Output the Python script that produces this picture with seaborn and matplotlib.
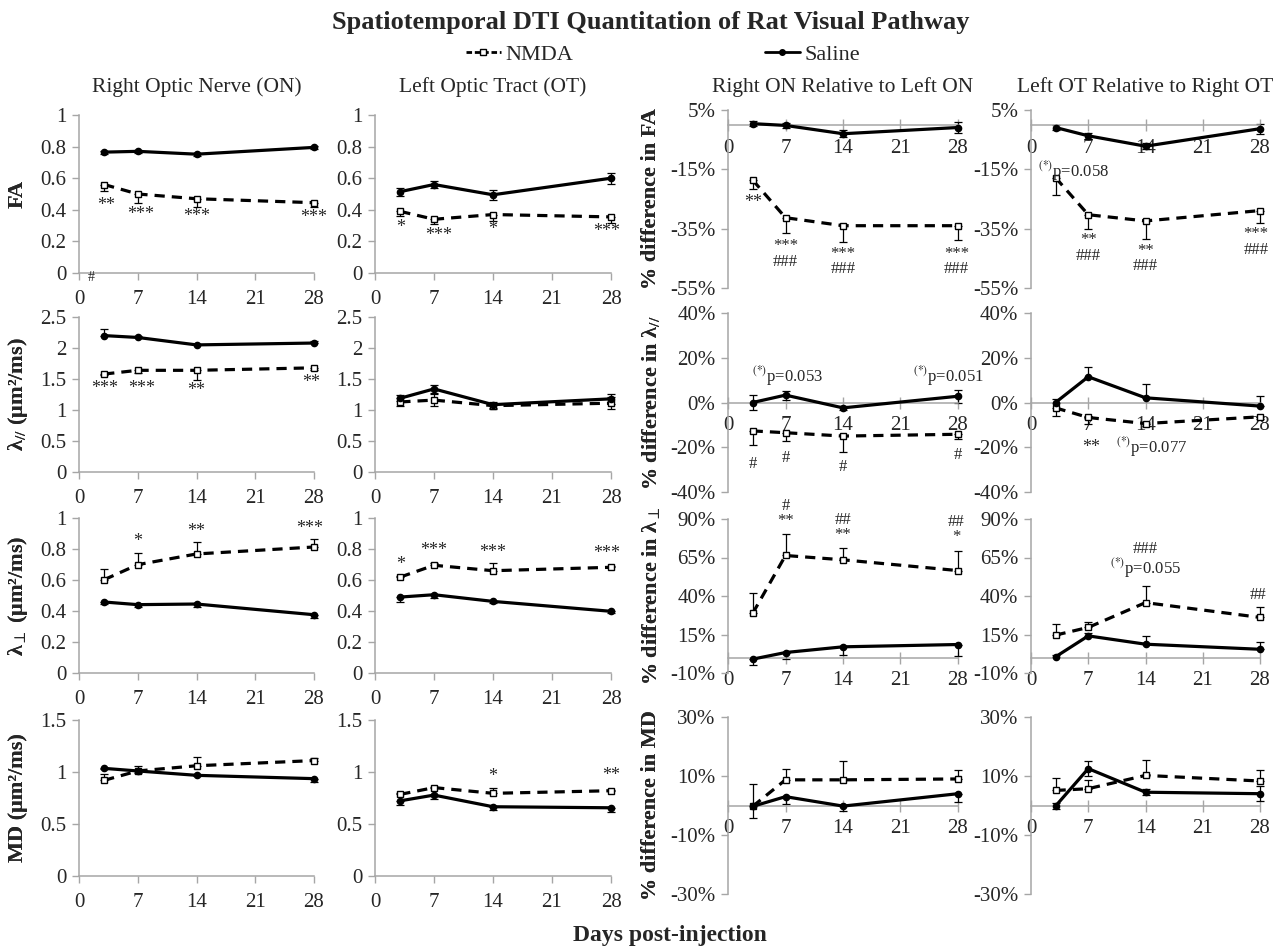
import pandas as pd
import seaborn as sns
import matplotlib.pyplot as plt
from matplotlib.lines import Line2D
from matplotlib.ticker import FuncFormatter

sns.set_theme(style="white")
plt.rcParams['font.family'] = ['Liberation Serif', 'DejaVu Serif']
plt.rcParams['mathtext.fontset'] = 'stix'

days = [3, 7, 14, 28]

col_titles = ['Right Optic Nerve (ON)', 'Left Optic Tract (OT)',
              'Right ON Relative to Left ON', 'Left OT Relative to Right OT']
abs_labels = ['FA', 'λ$_{//}$ (μm²/ms)', 'λ$_{\\perp}$ (μm²/ms)', 'MD (μm²/ms)']
pct_labels = ['% difference in FA', '% difference in λ$_{//}$',
              '% difference in λ$_{\\perp}$', '% difference in MD']

# ---- FA ----
fa_on_nmda = [0.56, 0.50, 0.47, 0.445]
fa_on_nmda_err = [0.04, 0.06, 0.05, 0.03]
fa_on_saline = [0.765, 0.77, 0.752, 0.795]
fa_on_saline_err = [0.01, 0.01, 0.01, 0.008]

fa_ot_nmda = [0.39, 0.34, 0.37, 0.355]
fa_ot_nmda_err = [0.03, 0.03, 0.04, 0.04]
fa_ot_saline = [0.515, 0.56, 0.495, 0.60]
fa_ot_saline_err = [0.025, 0.025, 0.03, 0.035]

fa_on_pct_nmda = [-18.6, -31.3, -34.0, -34.0]
fa_on_pct_nmda_err = [3.0, 5.0, 5.4, 4.7]
fa_on_pct_saline = [0.4, -0.2, -3.0, -0.9]
fa_on_pct_saline_err = [0.8, 0.8, 1.2, 2.0]

fa_ot_pct_nmda = [-17.8, -30.3, -32.4, -28.9]
fa_ot_pct_nmda_err = [5.8, 4.7, 6.2, 4.1]
fa_ot_pct_saline = [-0.9, -3.7, -7.2, -1.3]
fa_ot_pct_saline_err = [0.8, 1.0, 1.0, 1.7]

# ---- axial diffusivity ----
ad_on_nmda = [1.58, 1.64, 1.64, 1.68]
ad_on_nmda_err = [0.02, 0.04, 0.15, 0.03]
ad_on_saline = [2.20, 2.17, 2.05, 2.08]
ad_on_saline_err = [0.10, 0.02, 0.01, 0.04]

ad_ot_nmda = [1.13, 1.16, 1.07, 1.11]
ad_ot_nmda_err = [0.06, 0.10, 0.05, 0.10]
ad_ot_saline = [1.19, 1.34, 1.086, 1.18]
ad_ot_saline_err = [0.05, 0.07, 0.05, 0.08]

ad_on_pct_nmda = [-12.7, -13.5, -15.0, -14.2]
ad_on_pct_nmda_err = [6.4, 3.7, 7.0, 2.0]
ad_on_pct_saline = [0.0, 3.3, -2.4, 2.8]
ad_on_pct_saline_err = [3.4, 2.0, 1.0, 3.0]

ad_ot_pct_nmda = [-2.4, -6.7, -9.4, -6.4]
ad_ot_pct_nmda_err = [3.6, 3.0, 1.0, 1.0]
ad_ot_pct_saline = [0.0, 11.5, 2.1, -1.6]
ad_ot_pct_saline_err = [1.5, 4.2, 6.0, 4.4]

# ---- radial diffusivity ----
rd_on_nmda = [0.602, 0.699, 0.768, 0.813]
rd_on_nmda_err = [0.07, 0.075, 0.08, 0.05]
rd_on_saline = [0.458, 0.441, 0.445, 0.376]
rd_on_saline_err = [0.015, 0.015, 0.02, 0.02]

rd_ot_nmda = [0.619, 0.695, 0.66, 0.682]
rd_ot_nmda_err = [0.01, 0.015, 0.05, 0.008]
rd_ot_saline = [0.49, 0.505, 0.462, 0.398]
rd_ot_saline_err = [0.035, 0.02, 0.008, 0.01]

rd_on_pct_nmda = [28.7, 66.3, 63.5, 56.5]
rd_on_pct_nmda_err = [13.5, 14.0, 7.5, 13.0]
rd_on_pct_saline = [-1.0, 3.3, 7.0, 8.5]
rd_on_pct_saline_err = [3.5, 4.0, 5.0, 7.5]

rd_ot_pct_nmda = [14.6, 19.6, 35.7, 26.1]
rd_ot_pct_nmda_err = [7.0, 3.5, 11.0, 7.0]
rd_ot_pct_saline = [0.5, 14.1, 8.7, 5.4]
rd_ot_pct_saline_err = [1.0, 2.0, 5.2, 4.8]

# ---- mean diffusivity ----
md_on_nmda = [0.92, 1.01, 1.06, 1.11]
md_on_nmda_err = [0.06, 0.05, 0.08, 0.02]
md_on_saline = [1.035, 1.01, 0.968, 0.936]
md_on_saline_err = [0.01, 0.02, 0.01, 0.03]

md_ot_nmda = [0.785, 0.85, 0.795, 0.82]
md_ot_nmda_err = [0.01, 0.01, 0.05, 0.01]
md_ot_saline = [0.723, 0.778, 0.666, 0.656]
md_ot_saline_err = [0.04, 0.04, 0.03, 0.04]

md_on_pct_nmda = [-0.3, 8.7, 8.7, 9.0]
md_on_pct_nmda_err = [7.7, 3.8, 6.3, 2.9]
md_on_pct_saline = [-0.3, 3.0, -0.2, 4.0]
md_on_pct_saline_err = [4.0, 2.5, 1.5, 2.8]

md_ot_pct_nmda = [5.1, 5.7, 10.2, 8.3]
md_ot_pct_nmda_err = [4.2, 3.0, 5.3, 3.6]
md_ot_pct_saline = [-0.2, 12.5, 4.5, 4.0]
md_ot_pct_saline_err = [1.0, 2.6, 1.0, 2.5]

# significance marks: (day, y, text)
marks = {
    (0, 0): [(3.2, 0.43, '**'), (7.3, 0.37, '***'), (14, 0.355, '***'), (27.9, 0.35, '***')],
    (0, 1): [(3, 0.285, '*'), (7.5, 0.24, '***'), (14, 0.275, '*'), (27.5, 0.26, '***')],
    (0, 2): [(3, -26.3, '**'), (7, -43.5, '***\n###'), (14, -46, '***\n###'),
             (27.8, -46, '***\n###')],
    (0, 3): [(7, -41.5, '**\n###'), (14, -45, '**\n###'), (27.5, -39.5, '***\n###')],
    (1, 0): [(3, 1.34, '***'), (7.5, 1.34, '***'), (14, 1.31, '**'), (27.6, 1.45, '**')],
    (1, 2): [(7.2, 11.8, '$^{(*)}$p=0.053'), (26.8, 11.8, '$^{(*)}$p=0.051'), (3, -27.4, '#'),
             (7, -25, '#'), (14, -29, '#'), (28, -23.6, '#')],
    (1, 3): [(7.3, -19.9, '**'), (14.7, -19.9, '$^{(*)}$p=0.077')],
    (2, 0): [(7, 0.85, '*'), (14, 0.914, '**'), (27.5, 0.93, '***')],
    (2, 1): [(3, 0.70, '*'), (7, 0.79, '***'), (14, 0.78, '***'), (27.5, 0.77, '***')],
    (2, 2): [(7, 93.5, '#\n**'), (14, 84.5, '##\n**'), (27.8, 83, '##\n*')],
    (2, 3): [(14, 63, '###\n$^{(*)}$p=0.055'), (27.8, 40.6, '##')],
    (3, 1): [(14, 0.955, '*'), (28, 0.97, '**')],
}

panels = [
    [(fa_on_nmda, fa_on_nmda_err, fa_on_saline, fa_on_saline_err, 'down', 'both'),
     (fa_ot_nmda, fa_ot_nmda_err, fa_ot_saline, fa_ot_saline_err, 'down', 'both'),
     (fa_on_pct_nmda, fa_on_pct_nmda_err, fa_on_pct_saline, fa_on_pct_saline_err, 'down', 'both'),
     (fa_ot_pct_nmda, fa_ot_pct_nmda_err, fa_ot_pct_saline, fa_ot_pct_saline_err, 'down', 'both')],
    [(ad_on_nmda, ad_on_nmda_err, ad_on_saline, ad_on_saline_err, 'down', 'up'),
     (ad_ot_nmda, ad_ot_nmda_err, ad_ot_saline, ad_ot_saline_err, 'both', 'both'),
     (ad_on_pct_nmda, ad_on_pct_nmda_err, ad_on_pct_saline, ad_on_pct_saline_err, 'down', 'both'),
     (ad_ot_pct_nmda, ad_ot_pct_nmda_err, ad_ot_pct_saline, ad_ot_pct_saline_err, 'down', 'up')],
    [(rd_on_nmda, rd_on_nmda_err, rd_on_saline, rd_on_saline_err, 'up', 'down'),
     (rd_ot_nmda, rd_ot_nmda_err, rd_ot_saline, rd_ot_saline_err, 'up', 'down'),
     (rd_on_pct_nmda, rd_on_pct_nmda_err, rd_on_pct_saline, rd_on_pct_saline_err, 'up', 'down'),
     (rd_ot_pct_nmda, rd_ot_pct_nmda_err, rd_ot_pct_saline, rd_ot_pct_saline_err, 'up', 'up')],
    [(md_on_nmda, md_on_nmda_err, md_on_saline, md_on_saline_err, 'up', 'down'),
     (md_ot_nmda, md_ot_nmda_err, md_ot_saline, md_ot_saline_err, 'up', 'down'),
     (md_on_pct_nmda, md_on_pct_nmda_err, md_on_pct_saline, md_on_pct_saline_err, 'up', 'down'),
     (md_ot_pct_nmda, md_ot_pct_nmda_err, md_ot_pct_saline, md_ot_pct_saline_err, 'up', 'both')],
]

abs_ticks = [[0, 0.2, 0.4, 0.6, 0.8, 1], [0, 0.5, 1, 1.5, 2, 2.5],
             [0, 0.2, 0.4, 0.6, 0.8, 1], [0, 0.5, 1, 1.5]]
pct_ticks = [[-55, -35, -15, 5], [-40, -20, 0, 20, 40],
             [-10, 15, 40, 65, 90], [-30, -10, 10, 30]]

# layout in pixels of the 1281x948 canvas
W, H = 1281, 948
col_x = [(79, 314), (375, 611), (728, 958), (1031, 1260)]
rows_abs = [(115, 273), (317, 472), (518, 673), (720, 876)]
rows_pct = [(110, 288), (313, 492), (519, 673), (717, 894)]
GRAY = '#a6a6a6'
TICK = 15

fig = plt.figure(figsize=(W / 100, H / 100), dpi=100)


def side_err(err, side, want):
    return list(err) if side in (want, 'both') else [0] * len(err)


for r in range(4):
    for c in range(4):
        x0, x1 = col_x[c]
        pct = c >= 2
        y0, y1 = (rows_pct if pct else rows_abs)[r]
        ax = fig.add_axes([x0 / W, 1 - y1 / H, (x1 - x0) / W, (y1 - y0) / H])
        nmda, nmda_err, sal, sal_err, n_side, s_side = panels[r][c]

        for vals, err, side, ls, mk, mfc, ms in [
                (nmda, nmda_err, n_side, (0, (3.2, 2.2)), 's', 'white', 5),
                (sal, sal_err, s_side, '-', 'o', 'black', 4.5)]:
            ax.errorbar(days, vals, yerr=[side_err(err, side, 'down'), side_err(err, side, 'up')],
                        fmt='none', ecolor='black', elinewidth=0.9, capsize=3,
                        capthick=0.9, clip_on=False, zorder=2)
            df = pd.DataFrame({'day': days, 'value': vals})
            sns.lineplot(data=df, x='day', y='value', ax=ax, color='black', lw=2.3,
                         linestyle=ls, marker=mk, markersize=ms, markerfacecolor=mfc,
                         markeredgecolor='black', markeredgewidth=1, errorbar=None,
                         clip_on=False, zorder=3)

        ticks = pct_ticks[r] if pct else abs_ticks[r]
        ax.set_xlim(0, 28)
        ax.set_xticks([0, 7, 14, 21, 28])
        ax.set_ylim(ticks[0], ticks[-1])
        ax.set_yticks(ticks)
        ax.set_xlabel('')
        ax.set_ylabel('')
        for s in ['top', 'right']:
            ax.spines[s].set_visible(False)
        for s in ['left', 'bottom']:
            ax.spines[s].set_color(GRAY)
            ax.spines[s].set_linewidth(1.1)
        ax.tick_params(axis='y', left=True, direction='out', length=5, width=1,
                       color=GRAY, labelsize=TICK, pad=4)
        if pct:
            ax.spines['bottom'].set_position(('data', 0))
            ax.yaxis.set_major_formatter(FuncFormatter(lambda v, p: f'{v:.0f}%'))
            ax.tick_params(axis='x', bottom=True, direction='inout', length=8, width=1,
                           color=GRAY, labelsize=TICK, pad=6)
        else:
            ax.yaxis.set_major_formatter(FuncFormatter(lambda v, p: f'{v:g}'))
            ax.tick_params(axis='x', bottom=True, direction='out', length=5, width=1,
                           color=GRAY, labelsize=TICK, pad=7)
        ax.patch.set_alpha(0)

        for (dx, dy, txt) in marks.get((r, c), []):
            size = 12 if ('p=' in txt or '#' in txt) else 13
            ax.text(dx, dy, txt, ha='center', va='center', fontsize=size,
                    linespacing=0.95, clip_on=False)
        if (r, c) == (0, 0):
            ax.text(1.4, -0.03, '#', ha='center', va='center', fontsize=10, clip_on=False)
        if (r, c) == (0, 3):
            ax.text(0.9, -15.5, '$^{(*)}$p=0.058', ha='left', va='center', fontsize=12)

        if r == 0:
            fig.text((x0 + x1) / 2 / W, 1 - 87 / H, col_titles[c], ha='center',
                     va='center', fontsize=15.5)
        lx = 651 if pct else 18
        fig.text(lx / W, 1 - (y0 + y1) / 2 / H, (pct_labels if pct else abs_labels)[r],
                 rotation=90, ha='center', va='center', fontsize=16, fontweight='bold')

fig.text(651 / W, 1 - 23 / H, 'Spatiotemporal DTI Quantitation of Rat Visual Pathway',
         ha='center', va='center', fontsize=19, fontweight='bold')
fig.text(670 / W, 1 - 936 / H, 'Days post-injection', ha='center', va='center',
         fontsize=17, fontweight='bold')

handles = [Line2D([0], [0], color='black', lw=2, ls=(0, (2, 1)), marker='s', ms=5,
                  mfc='white', mec='black'),
           Line2D([0], [0], color='black', lw=2, marker='o', ms=4)]
fig.legend(handles, ['NMDA', 'Saline'], loc='center', bbox_to_anchor=(663 / W, 1 - 55 / H),
           ncol=2, frameon=False, fontsize=16, handlelength=1.6, handletextpad=0.2,
           columnspacing=8.6)

fig.savefig('out.png', dpi=100)
